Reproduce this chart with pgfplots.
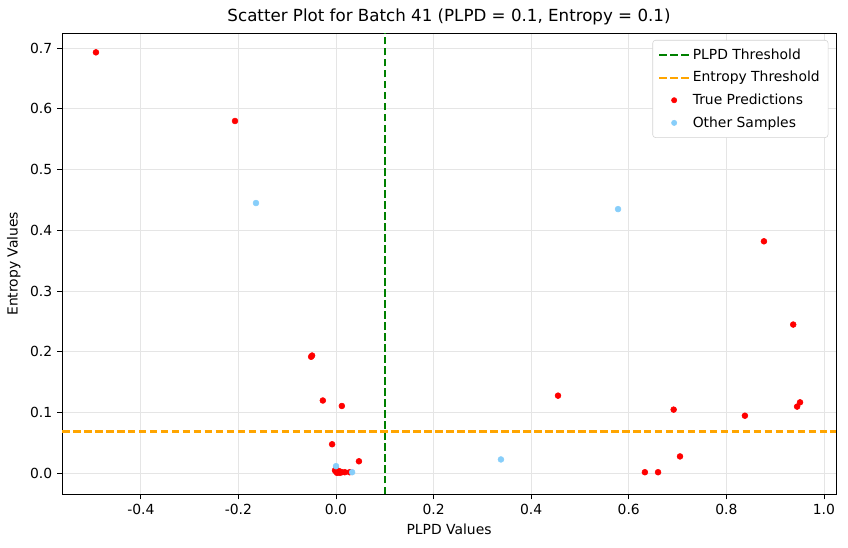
\documentclass[border=0pt]{standalone}
\usepackage{fontspec}
\setmainfont{DejaVu Sans}
\usepackage{pgfplots}
\pgfplotsset{compat=1.18}

\definecolor{mplgreen}{RGB}{0,128,0}
\definecolor{mplorange}{RGB}{255,165,0}
\definecolor{skyblue}{RGB}{135,206,250}

\pgfplotsset{
    longline legend/.style={legend image code/.code={\draw[##1] (0cm,0cm) -- (0.75cm,0cm);}},
}

\begin{document}
\begin{tikzpicture}
\begin{axis}[
    scale only axis,
    width=557pt, height=332pt,
    xmin=-0.5616, xmax=1.0248,
    ymin=-0.0346, ymax=0.7247,
    xtick={-0.4,-0.2,0,0.2,0.4,0.6,0.8,1.0},
    ytick={0,0.1,0.2,0.3,0.4,0.5,0.6,0.7},
    xticklabel style={/pgf/number format/.cd, fixed, fixed zerofill, precision=1, assume math mode=true},
    yticklabel style={/pgf/number format/.cd, fixed, fixed zerofill, precision=1, assume math mode=true},
    tick label style={font=\fontsize{10}{12}\selectfont},
    tick align=outside,
    tick pos=left,
    major tick length=3.5pt,
    tick style={black, line width=0.6pt},
    grid=major,
    grid style={gray!20, line width=0.6pt},
    axis line style={line width=0.6pt},
    xlabel={PLPD Values},
    ylabel={Entropy Values},
    label style={font=\fontsize{10}{12}\selectfont},
    title={Scatter Plot for Batch 41 (PLPD = 0.1, Entropy = 0.1)},
    title style={font=\fontsize{12}{14}\selectfont, yshift=-4pt},
    legend style={at={(0.99,0.985)}, anchor=north east, font=\fontsize{10}{12}\selectfont,
        draw=gray!35, rounded corners=2pt, row sep=3.2pt, inner xsep=4pt, inner ysep=4pt},
    legend cell align=left,
]
\addplot[color=mplgreen, line width=1.5pt, dash pattern=on 5.5pt off 2.4pt, longline legend]
    coordinates {(0.1,-0.0346) (0.1,0.7247)};
\addlegendentry{PLPD Threshold}
\addplot[color=mplorange, line width=1.5pt, dash pattern=on 5.5pt off 2.4pt, longline legend]
    coordinates {(-0.5616,0.069) (1.0248,0.069)};
\addlegendentry{Entropy Threshold}
\addplot[color=red, only marks, mark=*, mark size=2.1pt, mark options={draw=none, fill=red, solid},
    legend image code/.code={\fill[red] (0.375cm,0cm) circle (1.9pt);}]
    coordinates {
    (-0.492,0.693) (-0.207,0.580) (-0.049,0.194) (-0.051,0.192) (-0.027,0.120)
    (0.012,0.111) (-0.008,0.048) (0.047,0.020)
    (0.000,0.003) (0.002,0.001) (0.004,0.002) (0.008,0.001) (0.012,0.002)
    (0.018,0.002) (0.028,0.002) (0.000,0.008) (-0.002,0.005) (0.006,0.004)
    (0.455,0.128) (0.633,0.002) (0.660,0.002) (0.692,0.105) (0.705,0.028)
    (0.838,0.095) (0.877,0.382) (0.937,0.245) (0.945,0.110) (0.951,0.117)
};
\addlegendentry{True Predictions}
\addplot[color=skyblue, only marks, mark=*, mark size=2.1pt, mark options={draw=none, fill=skyblue, solid},
    legend image code/.code={\fill[skyblue] (0.375cm,0cm) circle (1.9pt);}]
    coordinates {
    (-0.164,0.445) (0.578,0.435) (0.338,0.023) (0.000,0.012) (0.033,0.002)
};
\addlegendentry{Other Samples}
\end{axis}
\pgfresetboundingbox
\path ([shift={(-44.6pt,-38pt)}]current axis.south west) rectangle ([shift={(8.6pt,23.8pt)}]current axis.north east);
\end{tikzpicture}
\end{document}
